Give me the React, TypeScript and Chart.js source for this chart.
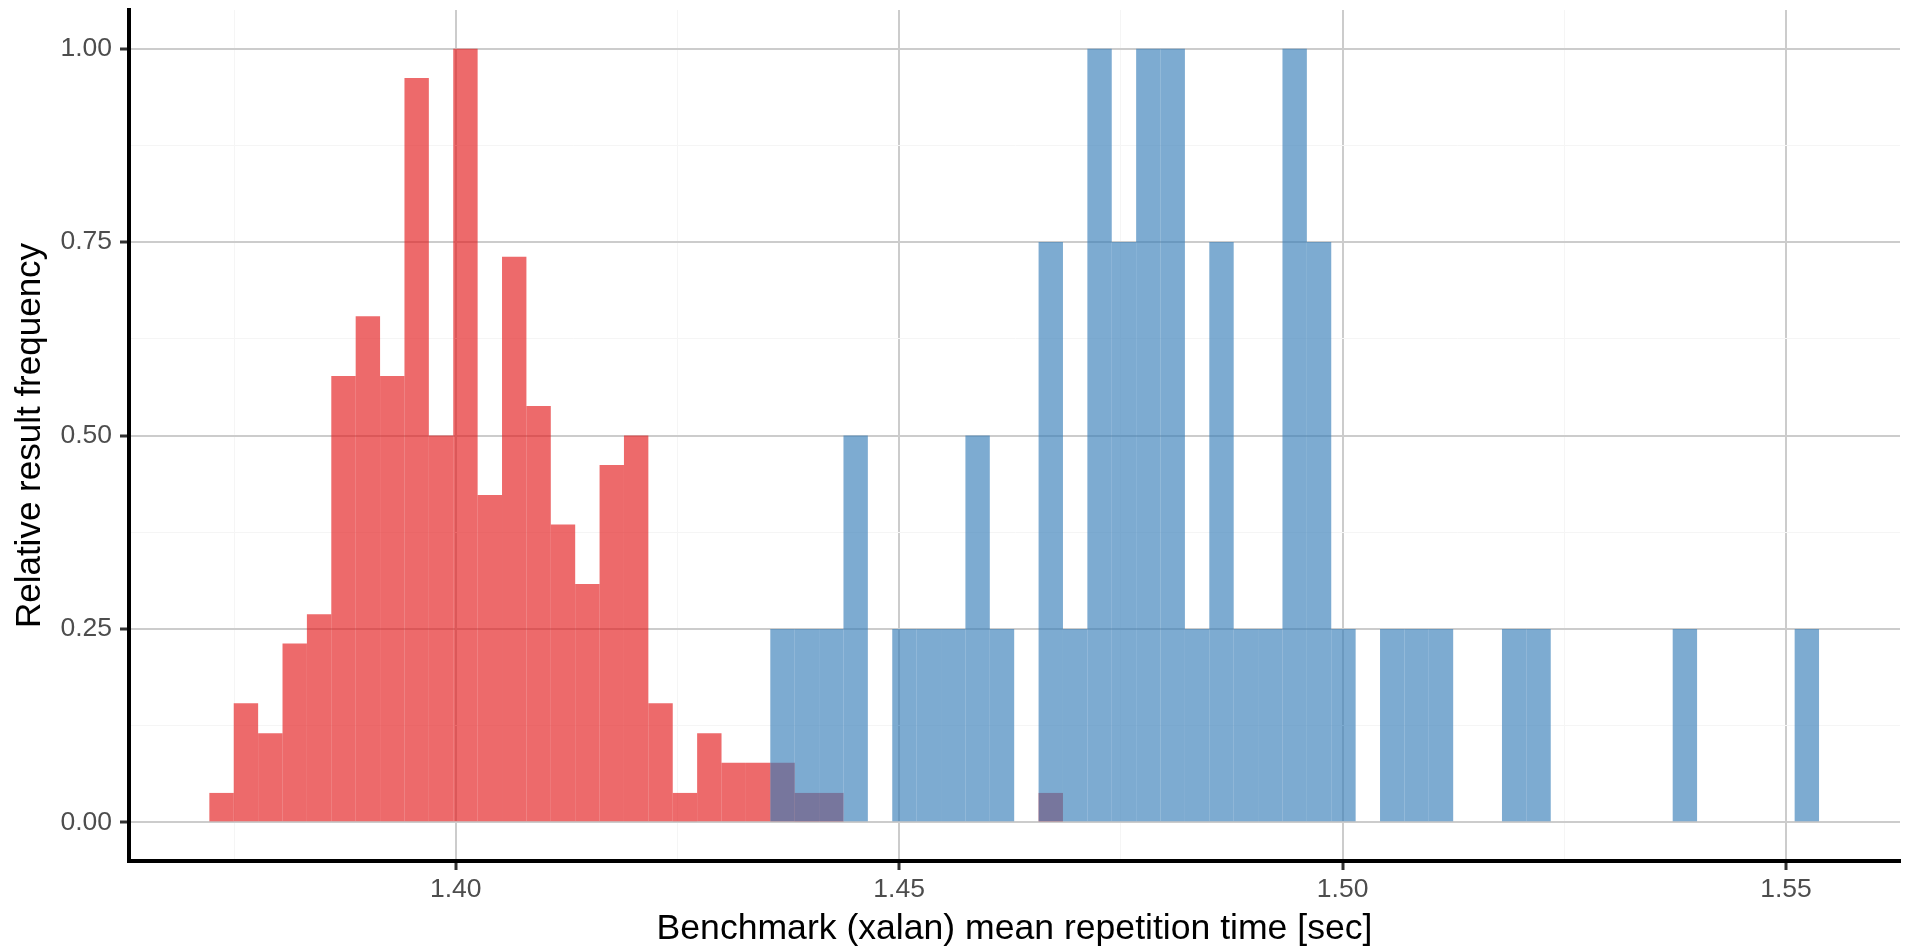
import React, { useEffect, useRef } from 'react';
import { Chart, registerables } from 'chart.js';

Chart.register(...registerables);

// Histogram binning (bin lower edge of first bin, and bin width in seconds)
const binStart = 1.37222;
const binWidth = 0.00275;

// Relative result frequency per bin, red series (bins 0..34)
const redFreq = [
  0.038, 0.154, 0.115, 0.231, 0.269, 0.577, 0.654, 0.577, 0.962, 0.5,
  1, 0.423, 0.731, 0.538, 0.385, 0.308, 0.462, 0.5, 0.154, 0.038,
  0.115, 0.077, 0.077, 0.077, 0.038, 0.038, 0, 0, 0, 0,
  0, 0, 0, 0, 0.038,
];

// Relative result frequency per bin, blue series (bins 0..65)
const blueFreq = [
  0, 0, 0, 0, 0, 0, 0, 0, 0, 0,
  0, 0, 0, 0, 0, 0, 0, 0, 0, 0,
  0, 0, 0, 0.25, 0.25, 0.25, 0.5, 0, 0.25, 0.25,
  0.25, 0.5, 0.25, 0, 0.75, 0.25, 1, 0.75, 1, 1,
  0.25, 0.75, 0.25, 0.25, 1, 0.75, 0.25, 0, 0.25, 0.25,
  0.25, 0, 0, 0.25, 0.25, 0, 0, 0, 0, 0,
  0.25, 0, 0, 0, 0, 0.25,
];

const xMajorTicks = [1.4, 1.45, 1.5, 1.55];
const xMinorTicks = [1.375, 1.425, 1.475, 1.525];
const yMajorTicks = [0, 0.25, 0.5, 0.75, 1];
const yMinorTicks = [0.125, 0.375, 0.625, 0.875];

const xTitle = 'Benchmark (xalan) mean repetition time [sec]';
const yTitle = 'Relative result frequency';

const RED = 'rgba(228,26,28,0.65)';
const BLUE = 'rgba(55,126,184,0.65)';
const MAJOR_GRID = 'rgb(204,204,204)';
const MINOR_GRID = 'rgb(245,245,245)';

const isIn = (v: number, list: number[]) => list.some((m) => Math.abs(m - v) < 1e-9);

const toPoints = (arr: number[]) =>
  arr.map((y, i) => ({ x: binStart + (i + 0.5) * binWidth, y }));

export default function App() {
  const ref = useRef<HTMLCanvasElement | null>(null);

  useEffect(() => {
    if (!ref.current) return;
    Chart.defaults.font.family = "'Liberation Sans', Arial, sans-serif";
    const tickColorFn = (ctx: any) =>
      ctx.tick && (isIn(ctx.tick.value, xMajorTicks) || isIn(ctx.tick.value, yMajorTicks))
        ? '#333333'
        : 'rgba(0,0,0,0)';

    const chart = new Chart(ref.current, {
      type: 'bar',
      data: {
        datasets: [
          {
            label: 'red',
            data: toPoints(redFreq),
            backgroundColor: RED,
            borderWidth: 0,
            barPercentage: 1,
            categoryPercentage: 1,
            grouped: false,
            inflateAmount: 0,
            order: 2,
          } as any,
          {
            label: 'blue',
            data: toPoints(blueFreq),
            backgroundColor: BLUE,
            borderWidth: 0,
            barPercentage: 1,
            categoryPercentage: 1,
            grouped: false,
            inflateAmount: 0,
            order: 1,
          } as any,
        ],
      },
      options: {
        responsive: false,
        animation: false,
        devicePixelRatio: 1,
        layout: { padding: { top: 10, right: 9, left: 0, bottom: 0 } },
        plugins: { legend: { display: false }, tooltip: { enabled: false } },
        scales: {
          x: {
            type: 'linear',
            offset: false,
            min: 1.36316,
            max: 1.56285,
            afterBuildTicks: (scale: any) => {
              scale.ticks = [...xMinorTicks, ...xMajorTicks]
                .sort((a, b) => a - b)
                .map((v) => ({ value: v }));
            },
            afterFit: (scale: any) => {
              scale.height = 90;
              scale.paddingLeft = 0;
              scale.paddingRight = 0;
            },
            grid: {
              offset: false,
              color: (ctx: any) => (ctx.tick && isIn(ctx.tick.value, xMajorTicks) ? MAJOR_GRID : MINOR_GRID),
              lineWidth: (ctx: any) => (ctx.tick && isIn(ctx.tick.value, xMajorTicks) ? 2 : 1),
              tickColor: tickColorFn,
              tickWidth: 3,
              tickLength: 9,
            },
            border: { display: true, color: '#000000', width: 4 },
            ticks: {
              color: '#4D4D4D',
              font: { size: 26.5 },
              padding: 4,
              maxRotation: 0,
              autoSkip: false,
              callback: (v: any) => (isIn(Number(v), xMajorTicks) ? Number(v).toFixed(2) : ''),
            },
            title: {
              display: true,
              text: xTitle,
              color: '#000000',
              font: { size: 35.6 },
              padding: { top: 0, bottom: 0 },
            },
          },
          y: {
            type: 'linear',
            min: -0.05,
            max: 1.05,
            afterBuildTicks: (scale: any) => {
              scale.ticks = [...yMinorTicks, ...yMajorTicks]
                .sort((a, b) => a - b)
                .map((v) => ({ value: v }));
            },
            afterFit: (scale: any) => {
              scale.width = 129;
              scale.paddingTop = 0;
              scale.paddingBottom = 0;
            },
            grid: {
              color: (ctx: any) => (ctx.tick && isIn(ctx.tick.value, yMajorTicks) ? MAJOR_GRID : MINOR_GRID),
              lineWidth: (ctx: any) => (ctx.tick && isIn(ctx.tick.value, yMajorTicks) ? 2 : 1),
              tickColor: tickColorFn,
              tickWidth: 3,
              tickLength: 9,
            },
            border: { display: true, color: '#000000', width: 4 },
            ticks: {
              color: '#4D4D4D',
              font: { size: 26.5 },
              padding: 8,
              autoSkip: false,
              callback: (v: any) => (isIn(Number(v), yMajorTicks) ? Number(v).toFixed(2) : ''),
            },
            title: {
              display: true,
              text: yTitle,
              color: '#000000',
              font: { size: 35 },
              padding: { top: 9, bottom: 0 },
            },
          },
        },
      } as any,
    });
    return () => chart.destroy();
  }, []);

  return (
    <div style={{ position: 'absolute', left: 0, top: 0, width: 1909, height: 951, background: '#ffffff' }}>
      <canvas ref={ref} width={1909} height={951} style={{ display: 'block' }} />
    </div>
  );
}
